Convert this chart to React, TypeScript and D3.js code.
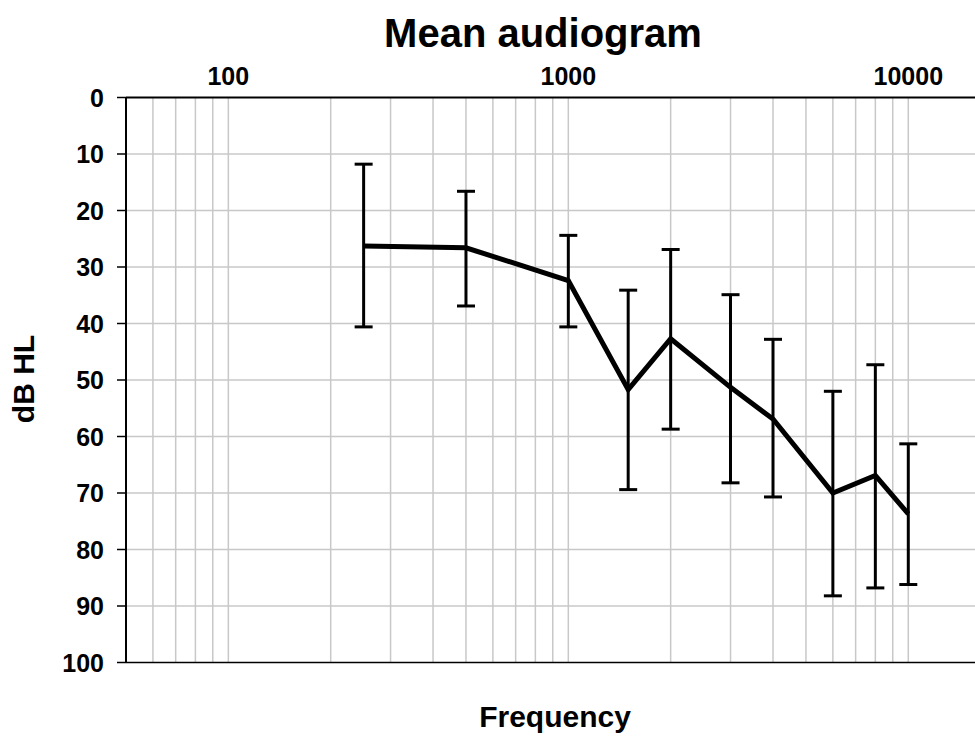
import * as d3 from 'd3';
import {useEffect, useRef} from 'react';

const width = 975;
const height = 736;

// audiogram frequencies (Hz) and hearing levels (dB HL)
const freqs = [250, 500, 1000, 1500, 2000, 3000, 4000, 6000, 8000, 10000];
const meanDb = [26.3, 26.6, 32.4, 51.7, 42.7, 51.3, 56.9, 70.0, 66.9, 73.7];
const upperDb = [11.8, 16.6, 24.4, 34.1, 26.9, 34.9, 42.8, 52.0, 47.3, 61.3];
const lowerDb = [40.6, 36.9, 40.6, 69.4, 58.7, 68.2, 70.7, 88.2, 86.8, 86.2];

const xTickLabels = [100, 1000, 10000];
const yTicks = [0, 10, 20, 30, 40, 50, 60, 70, 80, 90, 100];
const xGrid = [
  60, 70, 80, 90, 100, 200, 300, 400, 500, 600, 700, 800, 900, 1000, 2000,
  3000, 4000, 5000, 6000, 7000, 8000, 9000, 10000,
];

const font = "'Liberation Sans', Arial, sans-serif";

function App() {
  const ref = useRef<HTMLDivElement>(null);

  useEffect(() => {
    const left = 126;
    const right = 973;
    const top = 97.5;
    const bottom = 662.5;

    const x = d3.scaleLog().domain([50, 15500]).range([left, right]);
    const y = d3.scaleLinear().domain([0, 100]).range([top, bottom]);

    const svg = d3
      .select(ref.current)
      .append('svg')
      .attr('width', width)
      .attr('height', height)
      .style('position', 'absolute')
      .style('left', '0px')
      .style('top', '0px')
      .style('background', '#fff')
      .style('font-family', font);

    // grid
    svg
      .append('g')
      .selectAll('line')
      .data(yTicks.filter(d => d > 0 && d < 100))
      .join('line')
      .attr('x1', left)
      .attr('x2', right + 2)
      .attr('y1', d => y(d))
      .attr('y2', d => y(d))
      .attr('stroke', '#c8c8c8')
      .attr('stroke-width', 1.5);

    svg
      .append('g')
      .selectAll('line')
      .data(xGrid)
      .join('line')
      .attr('x1', d => x(d))
      .attr('x2', d => x(d))
      .attr('y1', top)
      .attr('y2', bottom)
      .attr('stroke', '#c8c8c8')
      .attr('stroke-width', 1.5);

    // axes
    svg
      .append('line')
      .attr('x1', left)
      .attr('x2', width)
      .attr('y1', top)
      .attr('y2', top)
      .attr('stroke', '#000')
      .attr('stroke-width', 2);
    svg
      .append('line')
      .attr('x1', left)
      .attr('x2', width)
      .attr('y1', bottom)
      .attr('y2', bottom)
      .attr('stroke', '#000')
      .attr('stroke-width', 1.5);
    svg
      .append('line')
      .attr('x1', left)
      .attr('x2', left)
      .attr('y1', top)
      .attr('y2', bottom)
      .attr('stroke', '#000')
      .attr('stroke-width', 2);

    const yAx = svg.append('g');
    yAx
      .selectAll('line')
      .data(yTicks)
      .join('line')
      .attr('x1', left - 9)
      .attr('x2', left)
      .attr('y1', d => y(d))
      .attr('y2', d => y(d))
      .attr('stroke', '#000')
      .attr('stroke-width', 1.5);
    yAx
      .selectAll('text')
      .data(yTicks)
      .join('text')
      .attr('x', 104)
      .attr('y', d => y(d))
      .attr('dy', '0.36em')
      .attr('text-anchor', 'end')
      .attr('font-size', 25)
      .attr('font-weight', 'bold')
      .text(d => d);

    svg
      .append('g')
      .selectAll('text')
      .data(xTickLabels)
      .join('text')
      .attr('x', d => x(d))
      .attr('y', 85)
      .attr('text-anchor', 'middle')
      .attr('font-size', 25)
      .attr('font-weight', 'bold')
      .text(d => d);

    // error bars
    const eb = svg.append('g').attr('stroke', '#000').attr('stroke-width', 3);
    freqs.forEach((f, i) => {
      const cx = x(f);
      eb.append('line')
        .attr('x1', cx)
        .attr('x2', cx)
        .attr('y1', y(upperDb[i]))
        .attr('y2', y(lowerDb[i]));
      [upperDb[i], lowerDb[i]].forEach(v => {
        eb.append('line')
          .attr('x1', cx - 9)
          .attr('x2', cx + 9)
          .attr('y1', y(v))
          .attr('y2', y(v));
      });
    });

    // mean line
    const line = d3
      .line<number>()
      .x((d, i) => x(freqs[i]))
      .y(d => y(d));
    svg
      .append('path')
      .datum(meanDb)
      .attr('fill', 'none')
      .attr('stroke', '#000')
      .attr('stroke-width', 5)
      .attr('stroke-linejoin', 'miter')
      .attr('d', line);

    // titles
    svg
      .append('text')
      .attr('x', 543)
      .attr('y', 47)
      .attr('text-anchor', 'middle')
      .attr('font-size', 40)
      .attr('font-weight', 'bold')
      .text('Mean audiogram');

    svg
      .append('text')
      .attr('x', 555)
      .attr('y', 727)
      .attr('text-anchor', 'middle')
      .attr('font-size', 30)
      .attr('font-weight', 'bold')
      .text('Frequency');

    svg
      .append('text')
      .attr('transform', `translate(34, 379) rotate(-90)`)
      .attr('text-anchor', 'middle')
      .attr('font-size', 30)
      .attr('font-weight', 'bold')
      .text('dB HL');

    return () => {
      svg.remove();
    };
  }, []);

  return <div ref={ref}></div>;
}

export default App;
